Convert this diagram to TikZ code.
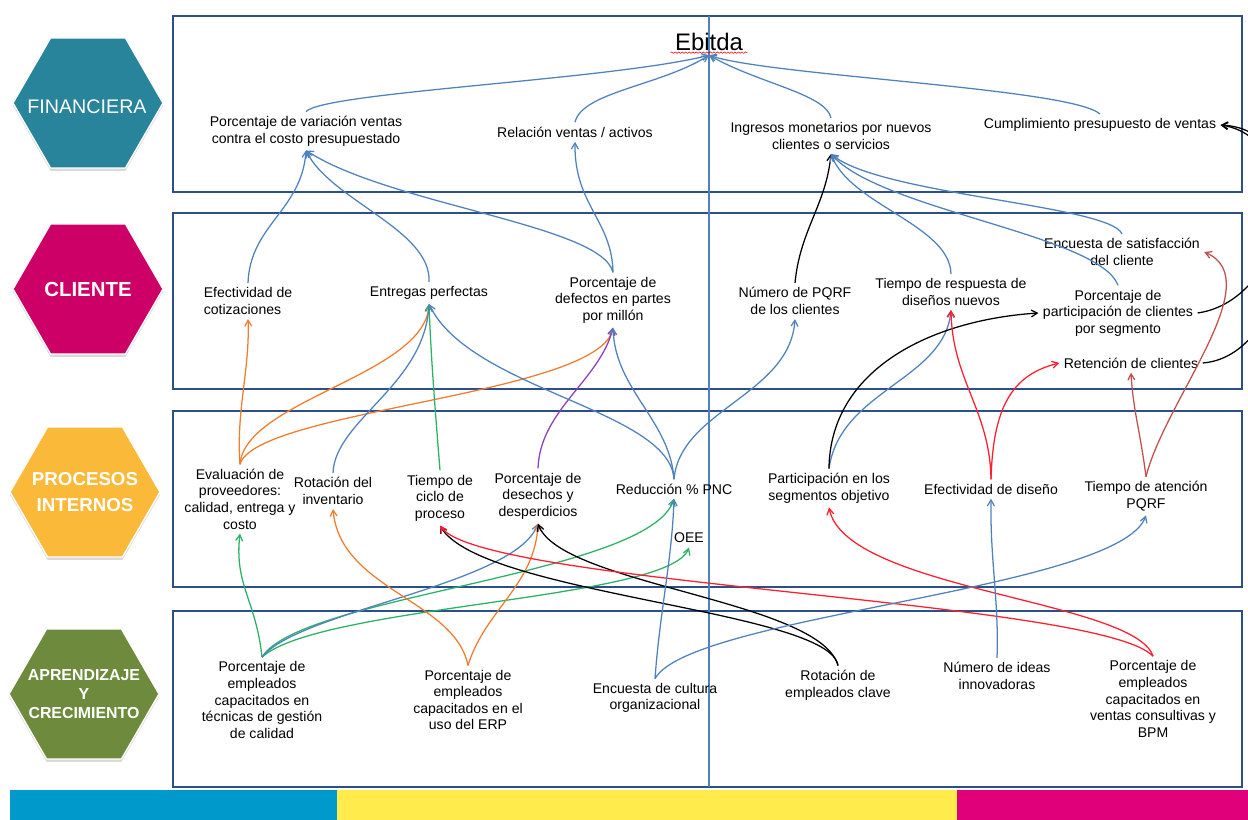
\documentclass[tikz,border=0pt]{standalone}
\usepackage{fontspec}
\setmainfont{Liberation Sans}
\usepackage{tikz}
\usetikzlibrary{arrows}
\usetikzlibrary{shapes.geometric}
\usetikzlibrary{shadows}
\usetikzlibrary{decorations.pathmorphing}

\definecolor{navy}{HTML}{2B4F86}
\definecolor{cblue}{HTML}{4F81BD}
\definecolor{corange}{HTML}{F07C2E}
\definecolor{cgreen}{HTML}{2BB068}
\definecolor{cpurple}{HTML}{8A3FBF}
\definecolor{cred}{HTML}{FF1F2E}
\definecolor{cbrown}{HTML}{C0504D}
\definecolor{hexteal}{HTML}{28849A}
\definecolor{hexmag}{HTML}{CC0066}
\definecolor{hexyel}{HTML}{FBB93A}
\definecolor{hexolive}{HTML}{6E8B3D}
\definecolor{stripcyan}{HTML}{0099CC}
\definecolor{stripyel}{HTML}{FFEB4C}
\definecolor{stripmag}{HTML}{E0007A}

\tikzset{
  kpi/.style={inner sep=3pt, align=center, font=\fontsize{10}{11.8}\selectfont},
  hexa/.style={regular polygon, regular polygon sides=6, minimum size=3.75cm,
    inner sep=0pt, draw=white, line width=1pt,
    drop shadow={shadow xshift=0pt, shadow yshift=-2pt, opacity=0.3}},
  hextxt/.style={text=white, align=center},
  band/.style={draw=navy, line width=2.1pt},
  lnk/.style={->, >=angle 60, line width=0.9pt}
}

\begin{document}
\begin{tikzpicture}[x=0.025cm, y=-0.025cm]
\useasboundingbox (0,0) rectangle (1248,820);

% bands
\draw[band] (173,16) rectangle (1242,192);
\draw[band] (173,213) rectangle (1242,389);
\draw[band] (173,411) rectangle (1242,587);
\draw[band] (173,611) rectangle (1242,787);
\draw[cblue, line width=1pt] (709,16) -- (709,787);

% bottom strip
\fill[stripcyan] (10,790) rectangle (337,820);
\fill[stripyel] (337,790) rectangle (957,820);
\fill[stripmag] (957,790) rectangle (1248,820);

% perspectives
\node[hexa, fill=hexteal] (hexfin) at (88,103) {};
\node[hextxt, font=\fontsize{14}{16}\selectfont] (tfin) at (87,107) {FINANCIERA};
\node[hexa, fill=hexmag] (hexcli) at (88,289) {};
\node[hextxt, font=\fontsize{14.5}{17}\bfseries] (tcli) at (hexcli) {CLIENTE};
\node[hexa, fill=hexyel] (hexpro) at (85,492) {};
\node[hextxt, font=\fontsize{13.3}{18}\bfseries] (tpro) at (hexpro) {PROCESOS\\INTERNOS};
\node[hexa, fill=hexolive] (hexapr) at (84,694) {};
\node[hextxt, font=\fontsize{11.3}{13.6}\bfseries] (tapr) at (hexapr) {APRENDIZAJE\\Y\\CRECIMIENTO};

% financiera
\node[kpi, font=\fontsize{17}{20}\selectfont] (ebitda) at (709,42) {Ebitda};
\draw[red, decorate, decoration={snake, amplitude=0.5pt, segment length=2.5pt}]
  ([yshift=-1.5pt]ebitda.base west) -- ([yshift=-1.5pt]ebitda.base east);
\node[kpi] (pvar) at (306,131) {Porcentaje de variación ventas\\contra el costo presupuestado};
\node[kpi] (rel) at (575,132) {Relación ventas / activos};
\node[kpi] (ing) at (831,136) {Ingresos monetarios por nuevos\\clientes o servicios};
\node[kpi] (cump) at (1100,125) {Cumplimiento presupuesto de ventas};

% cliente
\node[kpi, align=left] (efcot) at (248,301) {Efectividad de\\cotizaciones};
\node[kpi] (entr) at (429,293) {Entregas perfectas};
\node[kpi] (defec) at (613,300) {Porcentaje de\\defectos en partes\\por millón};
\node[kpi] (npqrf) at (795,301) {Número de PQRF\\de los clientes};
\node[kpi] (tresp) at (951,292) {Tiempo de respuesta de\\diseños nuevos};
\node[kpi] (esat) at (1122,252) {Encuesta de satisfacción\\del cliente};
\node[kpi] (ppart) at (1118,313) {Porcentaje de\\participación de clientes\\por segmento};
\node[kpi] (reten) at (1131,363) {Retención de clientes};

% procesos internos
\node[kpi] (evalp) at (240,499) {Evaluación de\\proveedores:\\calidad, entrega y\\costo};
\node[kpi] (rotinv) at (333,491) {Rotación del\\inventario};
\node[kpi] (tciclo) at (440,498) {Tiempo de\\ciclo de\\proceso};
\node[kpi] (desech) at (538,496) {Porcentaje de\\desechos y\\desperdicios};
\node[kpi] (redpnc) at (674,489) {Reducción \% PNC};
\node[kpi] (oee) at (689,538) {OEE};
\node[kpi] (partseg) at (829,488) {Participación en los\\segmentos objetivo};
\node[kpi] (efdis) at (991,489) {Efectividad de diseño};
\node[kpi] (taten) at (1146,496) {Tiempo de atención\\PQRF};

% aprendizaje y crecimiento
\node[kpi] (capcal) at (262,700) {Porcentaje de\\empleados\\capacitados en\\técnicas de gestión\\de calidad};
\node[kpi] (caperp) at (468,700) {Porcentaje de\\empleados\\capacitados en el\\uso del ERP};
\node[kpi] (enccult) at (655,698) {Encuesta de cultura\\organizacional};
\node[kpi] (rotemp) at (838,685) {Rotación de\\empleados clave};
\node[kpi] (nideas) at (997,676) {Número de ideas\\innovadoras};
\node[kpi] (capbpm) at (1153,699) {Porcentaje de\\empleados\\capacitados en\\ventas consultivas y\\BPM};

% financiera -> ebitda
\draw[lnk,cblue] (pvar.north) .. controls (325,92) and (610,80) .. (ebitda.south);
\draw[lnk,cblue] (rel.north) .. controls (582,92) and (660,86) .. (ebitda.south);
\draw[lnk,cblue] (ing.north) .. controls (826,94) and (760,84) .. (ebitda.south);
\draw[lnk,cblue] (cump.north) .. controls (1070,88) and (770,76) .. (ebitda.south);

% cliente -> financiera
\draw[lnk,cblue] (efcot.north) .. controls (250,225) and (302,210) .. (pvar.south);
\draw[lnk,cblue] (entr.north) .. controls (432,230) and (330,200) .. (pvar.south);
\draw[lnk,cblue] (defec.north) .. controls (602,225) and (390,205) .. (pvar.south);
\draw[lnk,cblue] (defec.north) .. controls (612,220) and (574,205) .. (rel.south);
\draw[lnk,black] (npqrf.north) .. controls (800,230) and (826,205) .. (ing.south);
\draw[lnk,cblue] (tresp.north) .. controls (950,225) and (850,205) .. (ing.south);
\draw[lnk,cblue] (esat.north) .. controls (1110,205) and (880,195) .. (ing.south);
\draw[lnk,cblue] (ppart.north) .. controls (1100,235) and (880,210) .. (ing.south);
\draw[lnk,black] (ppart.east) .. controls (1290,300) and (1320,130) .. (cump.east);
\draw[lnk,black] (reten.east) .. controls (1300,355) and (1320,140) .. (cump.east);

% procesos -> cliente
\draw[lnk,corange] (evalp.north) .. controls (236,410) and (250,370) .. (efcot.south);
\draw[lnk,corange] (evalp.north) .. controls (245,400) and (425,375) .. (entr.south);
\draw[lnk,corange] (evalp.north) .. controls (255,410) and (600,395) .. (defec.south);
\draw[lnk,cblue] (rotinv.north) .. controls (335,420) and (425,385) .. (entr.south);
\draw[lnk,cgreen] (tciclo.north) .. controls (436,420) and (431,360) .. (entr.south);
\draw[lnk,cpurple] (desech.north) .. controls (540,410) and (600,380) .. (defec.south);
\draw[lnk,cblue] (redpnc.north) .. controls (670,410) and (470,390) .. (entr.south);
\draw[lnk,cblue] (redpnc.north) .. controls (670,420) and (615,390) .. (defec.south);
\draw[lnk,cblue] (redpnc.north) .. controls (680,410) and (790,395) .. (npqrf.south);
\draw[lnk,cblue] (partseg.north) .. controls (840,390) and (945,380) .. (tresp.south);
\draw[lnk,black] (partseg.north) .. controls (830,370) and (930,320) .. (ppart.west);
\draw[lnk,cred] (efdis.north) .. controls (990,410) and (952,380) .. (tresp.south);
\draw[lnk,cred] (efdis.north) .. controls (993,410) and (1010,375) .. (reten.west);
\draw[lnk,cbrown] (taten.north) .. controls (1140,430) and (1133,410) .. (reten.south);
\draw[lnk,cbrown] (taten.north) .. controls (1165,400) and (1270,280) .. (esat.east);

% aprendizaje -> procesos
\draw[lnk,cgreen] (capcal.north) .. controls (256,600) and (234,585) .. (evalp.south);
\draw[lnk,cgreen] (capcal.north) .. controls (300,595) and (650,575) .. (redpnc.south);
\draw[lnk,cgreen] (capcal.north) .. controls (320,605) and (670,600) .. (oee.south);
\draw[lnk,cblue] (capcal.north) .. controls (300,610) and (515,585) .. (desech.south);
\draw[lnk,corange] (caperp.north) .. controls (455,600) and (340,590) .. (rotinv.south);
\draw[lnk,corange] (caperp.north) .. controls (485,610) and (535,585) .. (desech.south);
\draw[lnk,black] (rotemp.north) .. controls (830,610) and (480,595) .. (tciclo.south);
\draw[lnk,black] (rotemp.north) .. controls (820,600) and (560,585) .. (desech.south);
\draw[lnk,cred] (capbpm.north) .. controls (1100,600) and (480,585) .. (tciclo.south);
\draw[lnk,cred] (capbpm.north) .. controls (1135,600) and (845,590) .. (partseg.south);
\draw[lnk,cblue] (nideas.north) .. controls (999,600) and (990,560) .. (efdis.south);
\draw[lnk,cblue] (enccult.north) .. controls (660,610) and (672,560) .. (redpnc.south);
\draw[lnk,cblue] (enccult.north) .. controls (690,615) and (1120,590) .. (taten.south);
\end{tikzpicture}
\end{document}
